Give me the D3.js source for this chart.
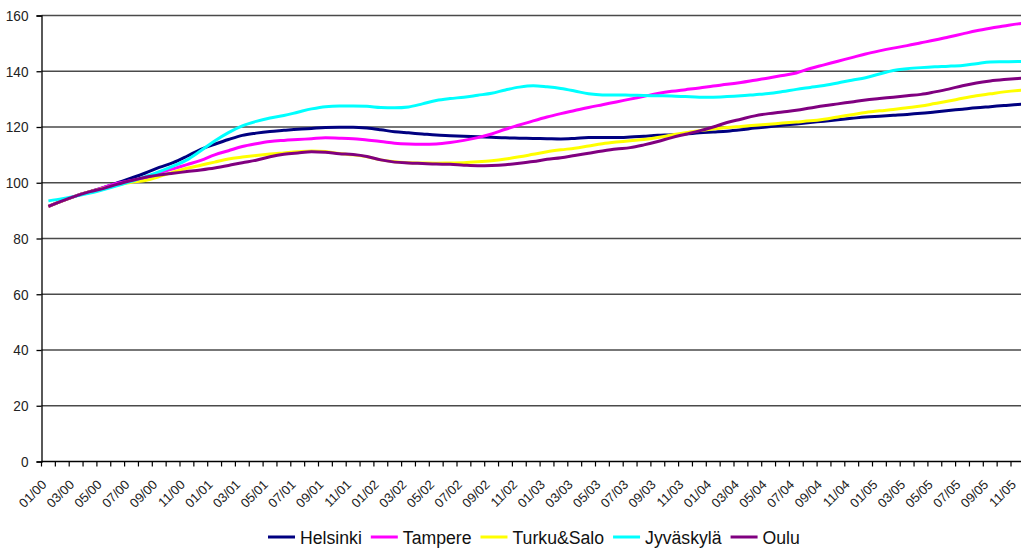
<!DOCTYPE html>
<html>
<head>
<meta charset="utf-8">
<script src="https://cdn.jsdelivr.net/npm/d3@7"></script>
<style>
  body { margin: 0; background: #fff; }
  svg { display: block; font-family: "Liberation Sans", Arial, sans-serif; }
</style>
</head>
<body>
<div id="chart"></div>
<script>
// months 01/00 .. 12/05
var years = ["00", "01", "02", "03", "04", "05"];
var months = [];
years.forEach(function(y){
  for (var m = 1; m <= 12; m++) months.push((m < 10 ? "0" + m : "" + m) + "/" + y);
});

var yTicks = [0, 20, 40, 60, 80, 100, 120, 140, 160];

var helsinki = [91.5,93.5,95.3,96.8,98.3,100,101.7,103.5,105.5,107.2,109.5,112,
  113.8,115.5,117,117.8,118.4,118.8,119.2,119.5,119.8,119.9,119.9,119.6,
  119,118.3,117.9,117.5,117.1,116.9,116.7,116.5,116.3,116.1,116,115.9,
  115.8,115.7,115.9,116.2,116.2,116.2,116.4,116.7,117,117.2,117.5,117.9,
  118.2,118.5,119,119.6,120.1,120.6,121.1,121.6,122.1,122.6,123.1,123.6,
  123.9,124.2,124.5,124.9,125.4,125.9,126.4,126.9,127.3,127.7,128.1,128.4];

var tampere = [91.5,93.5,95.3,96.8,98.3,99.8,100.8,101.8,103.5,105,106.5,108,
  110,111.5,113,114,114.8,115.2,115.5,115.8,116.1,116,115.8,115.3,
  114.8,114.2,113.9,113.8,113.9,114.4,115.2,116.2,117.5,119.2,120.7,122.2,
  123.6,124.8,125.9,127,128,129,130,131,132,132.8,133.4,134,
  134.7,135.3,136,136.8,137.6,138.5,139.4,141,142.3,143.6,144.9,146.2,
  147.3,148.3,149.2,150.2,151.2,152.3,153.4,154.5,155.4,156.2,157,157.6];

var turku = [91.5,93.5,95.3,96.8,98,99.2,100.2,100.8,102.2,103.8,105.2,106.3,
  107.4,108.5,109.2,109.8,110.3,110.7,111.1,111.4,111.2,110.5,110,109.3,
  108.2,107.5,107.2,107.1,107,107.1,107.2,107.5,107.9,108.5,109.3,110.2,
  111.1,111.8,112.4,113.2,114,114.6,115.1,115.5,116.2,117.1,117.9,118.7,
  119.3,119.8,120.2,120.6,121,121.4,121.8,122.2,122.8,123.6,124.4,125.2,
  125.8,126.3,126.9,127.5,128.4,129.3,130.3,131.2,131.9,132.6,133.1,133.4];

var jyvaskyla = [93.5,94.3,95.2,96.3,97.6,99,100.5,102.2,104,106,108.2,111.5,
  115,118,120.4,122,123.2,124.1,125.3,126.5,127.3,127.5,127.5,127.4,
  127,126.9,127.2,128.3,129.5,130.2,130.7,131.4,132.1,133.3,134.3,134.8,
  134.4,133.8,132.9,131.9,131.5,131.5,131.4,131.3,131.2,131.1,130.9,130.7,
  130.7,130.9,131.2,131.6,132,132.7,133.5,134.2,134.9,135.8,136.8,137.7,
  139,140.3,140.9,141.3,141.6,141.8,142.1,142.7,143.3,143.4,143.5,143.5];

var oulu = [91.5,93.5,95.3,96.8,98,99.5,100.8,102,102.8,103.4,104,104.6,
  105.3,106.2,107.2,108.1,109.3,110.2,110.7,111.1,110.9,110.4,110.1,109.4,
  108.2,107.4,107.1,106.9,106.7,106.6,106.3,106.1,106.2,106.5,107,107.6,
  108.4,109,109.8,110.6,111.4,112.1,112.6,113.6,114.8,116.2,117.4,118.6,
  120,121.6,122.8,124,124.8,125.4,126,126.8,127.6,128.3,129,129.7,
  130.2,130.7,131.2,131.7,132.6,133.6,134.8,135.8,136.5,137,137.4,137.7];

var seriesNames = ["Helsinki", "Tampere", "Turku&Salo", "Jyväskylä", "Oulu"];
var seriesValues = [helsinki, tampere, turku, jyvaskyla, oulu];
var seriesColors = ["#000080", "#ff00ff", "#ffff00", "#00ffff", "#800080"];

var chartWidth = 1021, chartHeight = 548;
var plotLeft = 41.5, plotTop = 15.5, plotBottom = 461.5, step = 13.85;

var svg = d3.select("#chart").append("svg")
  .attr("width", chartWidth)
  .attr("height", chartHeight);

var x = d3.scaleBand()
  .domain(months)
  .range([plotLeft, plotLeft + months.length * step]);

var y = d3.scaleLinear()
  .domain([0, 160])
  .range([plotBottom, plotTop]);

// gridlines
svg.append("g").selectAll("line")
  .data(yTicks.filter(function(d){ return d > 0; })).enter()
  .append("line")
    .attr("x1", plotLeft).attr("x2", chartWidth)
    .attr("y1", function(d){ return y(d); })
    .attr("y2", function(d){ return y(d); })
    .style("stroke", "#4a4a4a")
    .style("stroke-width", 1.3);

// y axis
var yAxis = svg.append("g")
  .attr("transform", "translate(" + plotLeft + ",0)")
  .call(d3.axisLeft(y).tickValues(yTicks).tickSize(5).tickPadding(0));
yAxis.select(".domain").style("stroke", "#000").style("stroke-width", 1.3);
yAxis.selectAll(".tick line").style("stroke", "#000").style("stroke-width", 1.3);
yAxis.selectAll(".tick text")
  .attr("x", null)
  .attr("transform", "translate(-13,0) scale(0.88,1)")
  .style("font-size", "15.5px")
  .style("fill", "#222");

// x axis line and ticks at month boundaries
svg.append("line")
  .attr("x1", plotLeft).attr("x2", chartWidth)
  .attr("y1", plotBottom).attr("y2", plotBottom)
  .style("stroke", "#000").style("stroke-width", 1.3);

svg.append("g").selectAll("line")
  .data(months).enter()
  .append("line")
    .attr("x1", function(d){ return x(d); })
    .attr("x2", function(d){ return x(d); })
    .attr("y1", plotBottom).attr("y2", plotBottom + 5)
    .style("stroke", "#000").style("stroke-width", 1.2);

// x labels every second month
svg.append("g").selectAll("text")
  .data(months.filter(function(d, i){ return i % 2 === 0; })).enter()
  .append("text")
    .attr("transform", function(d){
      return "translate(" + (x(d) + x.bandwidth() / 2 - 8) + "," + (plotBottom + 17) + ") rotate(-45)";
    })
    .attr("text-anchor", "end")
    .attr("dy", "0.75em")
    .style("font-size", "13px")
    .style("fill", "#222")
    .text(function(d){ return d; });

// lines
var line = d3.line()
  .x(function(d, i){ return x(months[i]) + x.bandwidth() / 2; })
  .y(function(d){ return y(d); })
  .curve(d3.curveMonotoneX);

svg.append("g").selectAll("path")
  .data(seriesValues).enter()
  .append("path")
    .attr("d", line)
    .style("fill", "none")
    .style("stroke", function(d, i){ return seriesColors[i]; })
    .style("stroke-width", 3)
    .style("stroke-linejoin", "round");

// legend
var legend = svg.append("g").attr("transform", "translate(268,537)");
var lx = 0;
seriesNames.forEach(function(name, i){
  var g = legend.append("g").attr("transform", "translate(" + lx + ",0)");
  g.append("line")
    .attr("x1", 0).attr("x2", 27)
    .attr("y1", 0).attr("y2", 0)
    .style("stroke", seriesColors[i])
    .style("stroke-width", 3);
  var t = g.append("text")
    .attr("transform", "translate(32,7) scale(0.93,1)")
    .style("font-size", "19px")
    .style("fill", "#111")
    .text(name);
  lx += 32 + t.node().getComputedTextLength() * 0.93 + 9;
});
</script>
</body>
</html>
